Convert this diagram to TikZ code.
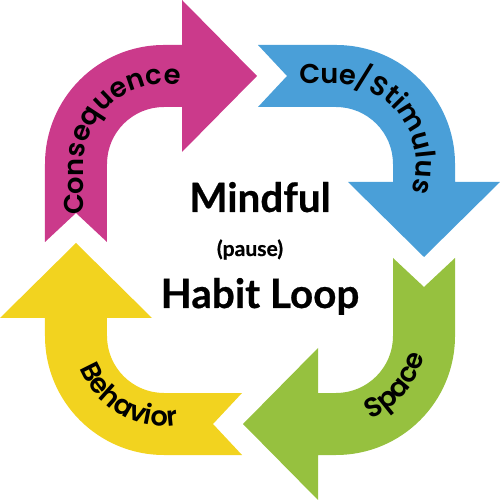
\documentclass[tikz,border=0pt]{standalone}
\usepackage{fontspec}
\setmainfont{Lato}
\newfontfamily\titlefont{Lato}[BoldFeatures={FakeBold=0.6}]
\newfontfamily\labelfont{Poppins SemiBold}
\usetikzlibrary{decorations.text}
\definecolor{habitmagenta}{RGB}{203,58,139}
\definecolor{habitblue}{RGB}{74,159,216}
\definecolor{habitgreen}{RGB}{150,193,63}
\definecolor{habityellow}{RGB}{242,211,31}
% Outline of one arrow of the loop (the top left one)
\newcommand{\habitarrow}{(-4.1,0.16) -- (-4.1,1.72) arc[start angle=180,end angle=90,radius=2.38]
  -- (-1.36,4.1) -- (-1.36,5) -- (0.14,3.48) -- (-1.36,1.96) -- (-1.36,2.86) -- (-1.72,2.86)
  arc[start angle=90,end angle=180,radius=1.14] -- (-2.86,0.16) -- (-3.48,0.74) -- cycle}
\tikzset{
% Text bent along an arrow, and the text in the middle
arrow text/.style={decorate,decoration={text along path,text align=center,
  text={|\labelfont\fontsize{15.5}{17}\selectfont|#1}}},
title text/.style={anchor=base,font=\titlefont\fontsize{23}{26}\selectfont\bfseries,inner sep=0}
}

\begin{document}
\begin{tikzpicture}
  \useasboundingbox (-5,-5) rectangle (5,5);
  % The four arrows, each the one before turned a quarter clockwise
  \fill[habitmagenta] \habitarrow;
  \fill[habitblue,rotate=-90] \habitarrow;
  \fill[habitgreen,rotate=180] \habitarrow;
  \fill[habityellow,rotate=90] \habitarrow;
  % Labels along the arrows
  \path[arrow text={Consequence}] (-3.32,0.32) -- (-3.32,1.72) arc[start angle=180,end angle=65,radius=1.6];
  \path[arrow text={Cue/Stimulus}] (0.52,3.32) -- (1.72,3.32) arc[start angle=90,end angle=-37,radius=1.6];
  \path[arrow text={Space}] (1.72,-3.52) arc[start angle=-90,end angle=10,radius=1.8];
  \path[arrow text={Behavior}] (-3.52,-1.72) arc[start angle=180,end angle=300,radius=1.8];
  % Middle
  \node(mindful)[title text] at (0.2,0.76) {Mindful};
  \node(pause)[anchor=base,font=\titlefont\fontsize{12}{14}\selectfont\bfseries,inner sep=0] at (0,-0.12) {(pause)};
  \node(habitloop)[title text] at (0.2,-1.16) {Habit Loop};
\end{tikzpicture}
\end{document}
